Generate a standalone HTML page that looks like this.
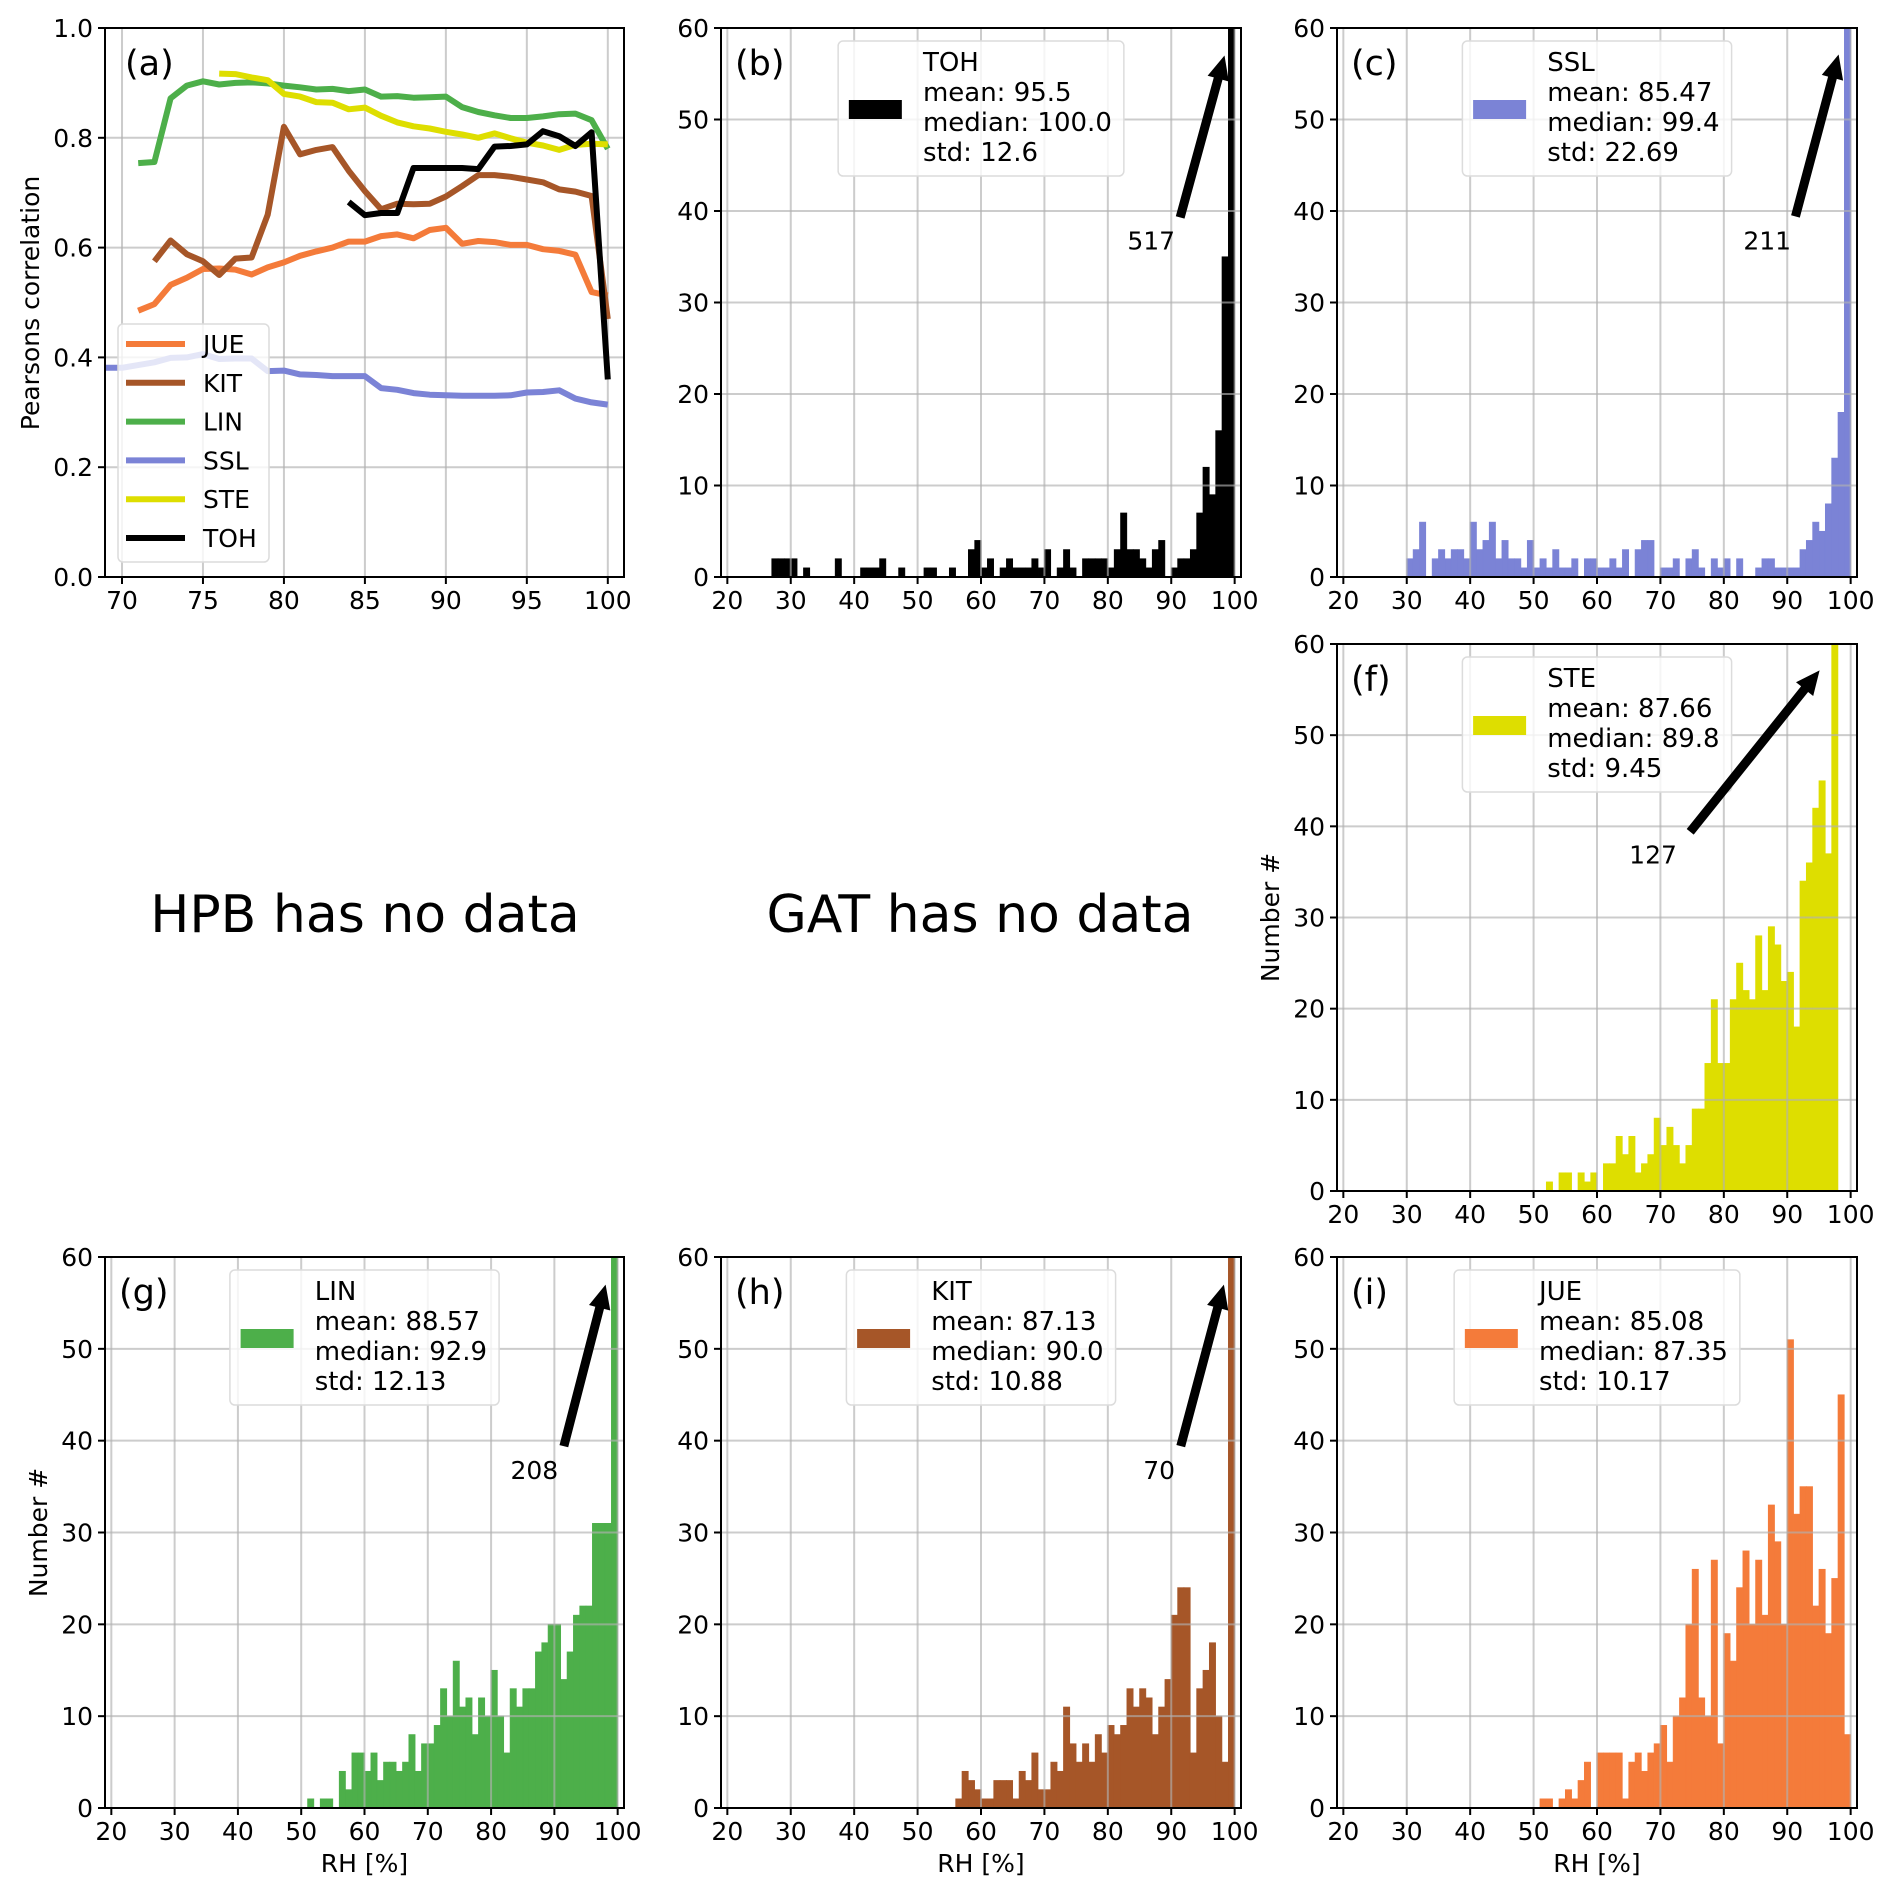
<!DOCTYPE html>
<html><head><meta charset="utf-8"><style>
html,body{margin:0;padding:0;background:#fff}
svg{display:block;font-family:"DejaVu Sans","Liberation Sans",sans-serif}
</style></head><body>
<svg id="fig" xmlns="http://www.w3.org/2000/svg" width="1892" height="1892" viewBox="0 0 1892 1892">
<rect width="1892" height="1892" fill="#fff"/>
<text x="365" y="932" font-size="52" text-anchor="middle" fill="#000">HPB has no data</text>
<text x="980" y="932" font-size="52" text-anchor="middle" fill="#000">GAT has no data</text>
</svg>
<script>
// ---------- panel (a) data ----------
const corrNames = ["JUE","KIT","LIN","SSL","STE","TOH"];
const corrColors = ["#f47b3a","#a65628","#4daf4a","#7b83d6","#dede00","#000000"];
const jueX = [71,72,73,74,75,76,77,78,79,80,81,82,83,84,85,86,87,88,89,90,91,92,93,94,95,96,97,98,99,100];
const jueY = [0.485,0.497,0.532,0.545,0.561,0.562,0.560,0.551,0.564,0.573,0.585,0.593,0.600,0.611,0.611,0.621,0.624,0.617,0.632,0.636,0.607,0.612,0.610,0.605,0.605,0.597,0.594,0.587,0.519,0.513];
const kitX = [72,73,74,75,76,77,78,79,80,81,82,83,84,85,86,87,88,89,90,91,92,93,94,95,96,97,98,99,100];
const kitY = [0.575,0.613,0.588,0.575,0.550,0.580,0.582,0.660,0.820,0.770,0.778,0.783,0.740,0.703,0.670,0.680,0.679,0.680,0.693,0.712,0.732,0.732,0.729,0.724,0.719,0.706,0.702,0.694,0.470];
const linX = [71,72,73,74,75,76,77,78,79,80,81,82,83,84,85,86,87,88,89,90,91,92,93,94,95,96,97,98,99,100];
const linY = [0.754,0.756,0.872,0.895,0.903,0.897,0.900,0.901,0.899,0.895,0.892,0.888,0.889,0.885,0.888,0.875,0.876,0.873,0.874,0.875,0.856,0.847,0.841,0.836,0.836,0.839,0.843,0.844,0.832,0.780];
const sslX = [69,70,71,72,73,74,75,76,77,78,79,80,81,82,83,84,85,86,87,88,89,90,91,92,93,94,95,96,97,98,99,100];
const sslY = [0.381,0.381,0.386,0.391,0.399,0.400,0.406,0.397,0.398,0.398,0.375,0.376,0.369,0.368,0.366,0.366,0.366,0.344,0.341,0.335,0.332,0.331,0.330,0.330,0.330,0.331,0.336,0.337,0.340,0.325,0.318,0.314];
const steX = [76,77,78,79,80,81,82,83,84,85,86,87,88,89,90,91,92,93,94,95,96,97,98,99,100];
const steY = [0.917,0.916,0.910,0.905,0.880,0.875,0.865,0.864,0.852,0.855,0.840,0.828,0.821,0.817,0.811,0.806,0.800,0.808,0.799,0.791,0.786,0.778,0.787,0.789,0.788];
const tohX = [84,85,86,87,88,89,90,91,92,93,94,95,96,97,98,99,100];
const tohY = [0.683,0.659,0.663,0.663,0.745,0.745,0.745,0.745,0.743,0.784,0.785,0.788,0.812,0.803,0.785,0.810,0.360];
const corrXTicks = [70,75,80,85,90,95,100];
const corrYTicks = [0.0,0.2,0.4,0.6,0.8,1.0];

// ---------- histogram data (1% bins, first bin given by *Start) ----------
const tohStart = 27;
const tohCounts = [2,2,2,2,0,1,0,0,0,0,2,0,0,0,1,1,1,2,0,0,1,0,0,0,1,1,0,0,1,0,0,3,4,1,2,0,1,2,1,1,1,2,1,3,0,1,3,1,0,2,2,2,2,1,3,7,3,3,2,1,3,4,0,1,2,2,3,7,12,9,16,35,517];
const sslStart = 30;
const sslCounts = [2,3,6,0,2,3,2,3,3,2, 6,3,4,6,2,4,2,2,1,4, 1,2,1,3,1,1,2,0,2,2, 1,1,2,1,3,0,3,4,4,0, 1,1,2,0,2,3,1,0,2,1, 2,0,2,0,0,1,2,2,1,1, 1,1,3,4,6,5,8,13,18,211];
const steStart = 52;
const steCounts = [1,0,2,2,0,2,1,2,0,3, 3,6,4,6,2,3,4,8,5,7, 5,3,5,9,9,14,21,14,14,21, 25,22,21,28,22,29,27,23,24,18, 34,36,42,45,37,127];
const linStart = 51;
const linCounts = [1,0,1,1,0,4,2,6,6,4, 6,3,5,5,4,5,8,4,7,7, 9,13,10,16,11,12,8,12,10,15, 10,6,13,11,13,13,17,18,20,20, 14,17,21,22,22,31,31,31,208];
const kitStart = 56;
const kitCounts = [1,4,3,2,1,1,3,3,3,1, 4,3,6,2,2,5,4,11,7,5, 7,5,8,6,9,8,9,13,11,13, 12,8,11,14,21,24,24,6,13,15, 18,10,5,70];
const jueStart = 51;
const jueCounts = [1,1,0,1,2,1,3,5,0,6,6,6,6,1,5,6,4,6,7,9,5,10,12,20,26,12,10,27,7,19,16,24,28,20,27,21,33,29,20,51,32,35,35,22,26,19,25,45,8];
const histXTicks = [20,30,40,50,60,70,80,90,100];
const histYTicks = [0,10,20,30,40,50,60];

const NS = "http://www.w3.org/2000/svg";
const svg = document.getElementById('fig');
function el(tag, attrs, parent){
  const e = document.createElementNS(NS, tag);
  for (const k in attrs) e.setAttribute(k, attrs[k]);
  (parent||svg).appendChild(e);
  return e;
}
function txt(s, attrs, parent){ const t = el('text', attrs, parent); t.textContent = s; return t; }

function makeAxes(box, xlim, ylim){
  const sx = v => box.x0 + (v - xlim[0])/(xlim[1]-xlim[0])*(box.x1-box.x0);
  const sy = v => box.y1 - (v - ylim[0])/(ylim[1]-ylim[0])*(box.y1-box.y0);
  return {sx, sy};
}
function drawGrid(g, box, ax, xt, yt){
  xt.forEach(v => { const l = el('line',{x1:ax.sx(v),x2:ax.sx(v),y1:box.y0,y2:box.y1,stroke:'#b0b0b0','stroke-opacity':0.65,'stroke-width':2},g);
      });
  yt.forEach(v => { const l = el('line',{x1:box.x0,x2:box.x1,y1:ax.sy(v),y2:ax.sy(v),stroke:'#b0b0b0','stroke-opacity':0.65,'stroke-width':2},g);
      });
}
function drawFrame(g, box, ax, xt, yt, yfmt){
  const f = el('rect',{x:box.x0,y:box.y0,width:box.x1-box.x0,height:box.y1-box.y0,fill:'none',stroke:'#000','stroke-width':2},g);
   
  xt.forEach(v => {
    el('line',{x1:ax.sx(v),x2:ax.sx(v),y1:box.y1,y2:box.y1+7,stroke:'#000','stroke-width':2},g);
    const t = txt(String(v),{x:ax.sx(v),y:box.y1+32,'font-size':25,'text-anchor':'middle',fill:'#000'},g);
     
  });
  yt.forEach(v => {
    el('line',{x1:box.x0-7,x2:box.x0,y1:ax.sy(v),y2:ax.sy(v),stroke:'#000','stroke-width':2},g);
    const t = txt(yfmt(v),{x:box.x0-12,y:ax.sy(v)+9,'font-size':25,'text-anchor':'end',fill:'#000'},g);
     
  });
}
function arrowPoly(x1,y1,x2,y2){
  const dx=x2-x1, dy=y2-y1, L=Math.hypot(dx,dy), ux=dx/L, uy=dy/L, px=-uy, py=ux;
  const sw=4.5, hw=11, hl=24;
  const bx=x2-ux*hl, by=y2-uy*hl;
  const p=[[x1+px*sw,y1+py*sw],[bx+px*sw,by+py*sw],[bx+px*hw,by+py*hw],[x2,y2],[bx-px*hw,by-py*hw],[bx-px*sw,by-py*sw],[x1-px*sw,y1-py*sw]];
  return p.map(q=>q[0].toFixed(1)+','+q[1].toFixed(1)).join(' ');
}

// ---------- panel (a) ----------
(function(){
  const box = {x0:105, x1:624, y0:28, y1:577};
  const ax = makeAxes(box,[68.95,101],[0,1]);
  const g = el('g',{});
  
  
  drawGrid(g, box, ax, corrXTicks, corrYTicks);
  const clip = el('clipPath',{id:'clipA'},g);
  el('rect',{x:box.x0,y:box.y0,width:box.x1-box.x0,height:box.y1-box.y0},clip);
  const xs=[jueX,kitX,linX,sslX,steX,tohX], ys=[jueY,kitY,linY,sslY,steY,tohY];
  xs.forEach((X,i)=>{
    const pts = X.map((x,j)=>ax.sx(x).toFixed(1)+','+ax.sy(ys[i][j]).toFixed(1)).join(' ');
    const pl = el('polyline',{points:pts,fill:'none',stroke:corrColors[i],'stroke-width':6,'stroke-linejoin':'round','clip-path':'url(#clipA)'},g);
    
    
  });
  drawFrame(g, box, ax, corrXTicks, corrYTicks, v=>v.toFixed(1));
  const lab = txt('(a)',{x:box.x0+20,y:box.y0+47,'font-size':35,fill:'#000'},g);
   
  const yl = txt('Pearsons correlation',{x:0,y:0,'font-size':25,'text-anchor':'middle',fill:'#000',transform:'translate(39,303) rotate(-90)'},g);
   
  const lg = el('g',{},g);
   
  el('rect',{x:box.x0+13,y:324,width:151,height:238,rx:5,fill:'#fff','fill-opacity':0.8,stroke:'#dcdcdc','stroke-width':1.5},lg);
  corrNames.forEach((n,i)=>{
    const cy = 344 + i*38.8;
    const e = el('g',{},lg);
     
    el('line',{x1:box.x0+21,x2:box.x0+80,y1:cy,y2:cy,stroke:corrColors[i],'stroke-width':6},e);
    txt(n,{x:box.x0+98,y:cy+9,'font-size':25,fill:'#000'},e);
  });
})();

// ---------- histograms ----------
const hists = [
  {id:'b',name:'TOH',color:'#000000',start:tohStart,counts:tohCounts,box:{x0:721,x1:1241,y0:28,y1:577},stats:['mean: 95.5','median: 100.0','std: 12.6'],ann:{tail:[91.4,39.3],head:[98.4,57.0],tx:90.6,ty:35.8,label:'517'},ylab:false,xlab:false},
  {id:'c',name:'SSL',color:'#7b83d6',start:sslStart,counts:sslCounts,box:{x0:1337,x1:1857,y0:28,y1:577},stats:['mean: 85.47','median: 99.4','std: 22.69'],ann:{tail:[91.3,39.4],head:[98.1,57.1],tx:90.6,ty:35.8,label:'211'},ylab:false,xlab:false},
  {id:'f',name:'STE',color:'#dede00',start:steStart,counts:steCounts,box:{x0:1337,x1:1857,y0:644,y1:1191},stats:['mean: 87.66','median: 89.8','std: 9.45'],ann:{tail:[74.7,39.4],head:[95.1,57.1],tx:72.6,ty:35.9,label:'127'},ylab:true,xlab:false},
  {id:'g',name:'LIN',color:'#4daf4a',start:linStart,counts:linCounts,box:{x0:105,x1:624,y0:1257,y1:1808},stats:['mean: 88.57','median: 92.9','std: 12.13'],ann:{tail:[91.5,39.4],head:[98.1,57.0],tx:90.6,ty:35.8,label:'208'},ylab:true,xlab:true},
  {id:'h',name:'KIT',color:'#a65628',start:kitStart,counts:kitCounts,box:{x0:721,x1:1241,y0:1257,y1:1808},stats:['mean: 87.13','median: 90.0','std: 10.88'],ann:{tail:[91.5,39.4],head:[98.3,57.0],tx:90.6,ty:35.8,label:'70'},ylab:false,xlab:true},
  {id:'i',name:'JUE',color:'#f47b3a',start:jueStart,counts:jueCounts,box:{x0:1337,x1:1857,y0:1257,y1:1808},stats:['mean: 85.08','median: 87.35','std: 10.17'],ann:null,ylab:false,xlab:true}
];
hists.forEach(h=>{
  const box=h.box, ax=makeAxes(box,[19,101],[0,60]);
  const g = el('g',{});
  
  
  h.counts.forEach((c,i)=>{
    if(c<=0) return;
    const x0=ax.sx(h.start+i), x1=ax.sx(h.start+i+1), yt=ax.sy(Math.min(c,60));
    const r = el('rect',{x:x0.toFixed(2),y:yt.toFixed(2),width:(x1-x0).toFixed(2),height:(box.y1-yt).toFixed(2),fill:h.color,stroke:h.color,'stroke-width':0.6},g);
    
    
  });
  drawGrid(g, box, ax, histXTicks, histYTicks);
  drawFrame(g, box, ax, histXTicks, histYTicks, v=>String(v));
  const lab = txt('('+h.id+')',{x:box.x0+14,y:box.y0+47,'font-size':35,fill:'#000'},g);
   
  const lg = el('g',{},g);
   
  const frame = el('rect',{x:0,y:box.y0+13,width:10,height:135,rx:5,fill:'#fff','fill-opacity':0.8,stroke:'#dcdcdc','stroke-width':1.5},lg);
  const handle = el('rect',{x:0,y:box.y0+72,width:53,height:19,fill:h.color},lg);
   
  const lines=[h.name].concat(h.stats);
  const tnodes = lines.map((s,k)=>{ const t=txt(s,{x:0,y:box.y0+43+k*30,'font-size':26,fill:'#000'},lg);
      return t;});
  let tw = 0; tnodes.forEach(t=>{ tw=Math.max(tw,t.getComputedTextLength()); });
  const W = 10.7+52.7+21.4+tw+12, cx=(box.x0+box.x1)/2, L=cx-W/2;
  frame.setAttribute('x',L); frame.setAttribute('width',W);
  handle.setAttribute('x',L+10.7);
  tnodes.forEach(t=>t.setAttribute('x',L+10.7+52.7+21.4));
  if(h.ann){
    const a=h.ann;
    const ar = el('polygon',{points:arrowPoly(ax.sx(a.tail[0]),ax.sy(a.tail[1]),ax.sx(a.head[0]),ax.sy(a.head[1])),fill:'#000'},g);
     
    const at = txt(a.label,{x:ax.sx(a.tx),y:ax.sy(a.ty),'font-size':25,'text-anchor':'end',fill:'#000'},g);
     
  }
  if(h.ylab){
    const yl = txt('Number #',{x:0,y:0,'font-size':25,'text-anchor':'middle',fill:'#000',transform:'translate('+(box.x0-58)+','+((box.y0+box.y1)/2)+') rotate(-90)'},g);
     
  }
  if(h.xlab){
    const xl = txt('RH [%]',{x:(box.x0+box.x1)/2,y:box.y1+64,'font-size':25,'text-anchor':'middle',fill:'#000'},g);
     
  }
});
</script>
</body></html>
